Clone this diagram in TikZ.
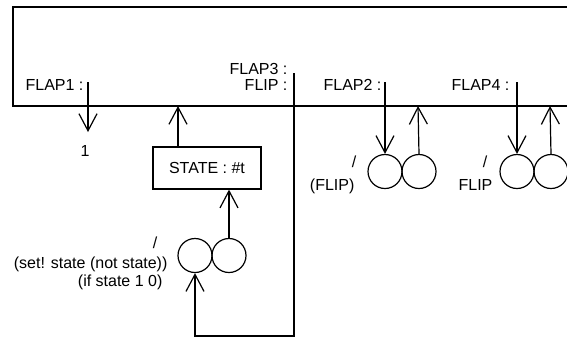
\documentclass[tikz,border=0pt]{standalone}
\usepackage{fontspec}
\setmainfont{Liberation Sans}
\usetikzlibrary{arrows.meta}
\begin{document}
\begin{tikzpicture}[x=0.5pt,y=-0.5pt,line width=0.6pt,
    >={Straight Barb[length=8.5pt,width=9pt]},
    font=\fontsize{8}{9}\selectfont,
    lbl/.style={anchor=base east, inner sep=0pt},
    port/.style={circle, draw, minimum size=17pt, inner sep=0pt},
    statebox/.style={draw, minimum width=54pt, minimum height=21pt, inner sep=0pt}]
    \useasboundingbox (0,0) rectangle (567,339);

    % main block, open to the right
    \draw (567,7) -| (13,106) -- (567,106);
    \coordinate (bot1) at (178,106);
    \coordinate (bot2) at (418,106);
    \coordinate (bot4) at (550,106);

    % terminal labels
    \node[lbl] (flap1) at (84,90) {FLAP1 :};
    \node[lbl] (flap3) at (288,74) {FLAP3 :};
    \node[lbl] (flip3) at (288,90) {FLIP :};
    \node[lbl] (flap2) at (382,90) {FLAP2 :};
    \node[lbl] (flap4) at (510,90) {FLAP4 :};
    \coordinate (t1) at (88,82);
    \coordinate (e1) at (88,132);
    \coordinate (t3) at (294,73);
    \coordinate (t2) at (385,82);
    \coordinate (t4) at (517,82);

    % state part
    \node[statebox] (state) at (207,168) {STATE : \#t};
    \node[port] (sa) at (195,255.5) {};
    \node[port] (sb) at (229,255.5) {};
    \coordinate (loop) at (195,336);

    % flap parts
    \node[port] (fa) at (385,171.5) {};
    \node[port] (fb) at (419,171.5) {};
    \node[port] (ga) at (517,171.5) {};
    \node[port] (gb) at (551,171.5) {};

    % connectors
    \draw[->] (t1) -- (e1);
    \draw[->] (state.north -| bot1) -- (bot1);
    \draw[->] (sb.north) -- (sb.north |- state.south);
    \draw[->] (t3) |- (loop) -- (sa.south);
    \draw[->] (t2) -- (fa.north);
    \draw[->] (fb.north) -- (bot2);
    \draw[->] (t4) -- (ga.north);
    \draw[->] (gb.north) -- (bot4);

    % texts
    \node[anchor=base, inner sep=0pt] (one) at (85,156) {1};
    \node (sl1) at (155,243) {/};
    \node[lbl] (set) at (168,268) {(set! state (not state))};
    \node[lbl] (ifs) at (163,286) {(if state 1 0)};
    \node (sl2) at (354,162) {/};
    \node[lbl] (fl2) at (355,190) {(FLIP)};
    \node (sl4) at (485,162) {/};
    \node[lbl] (fl4) at (493,190) {FLIP};
\end{tikzpicture}
\end{document}
